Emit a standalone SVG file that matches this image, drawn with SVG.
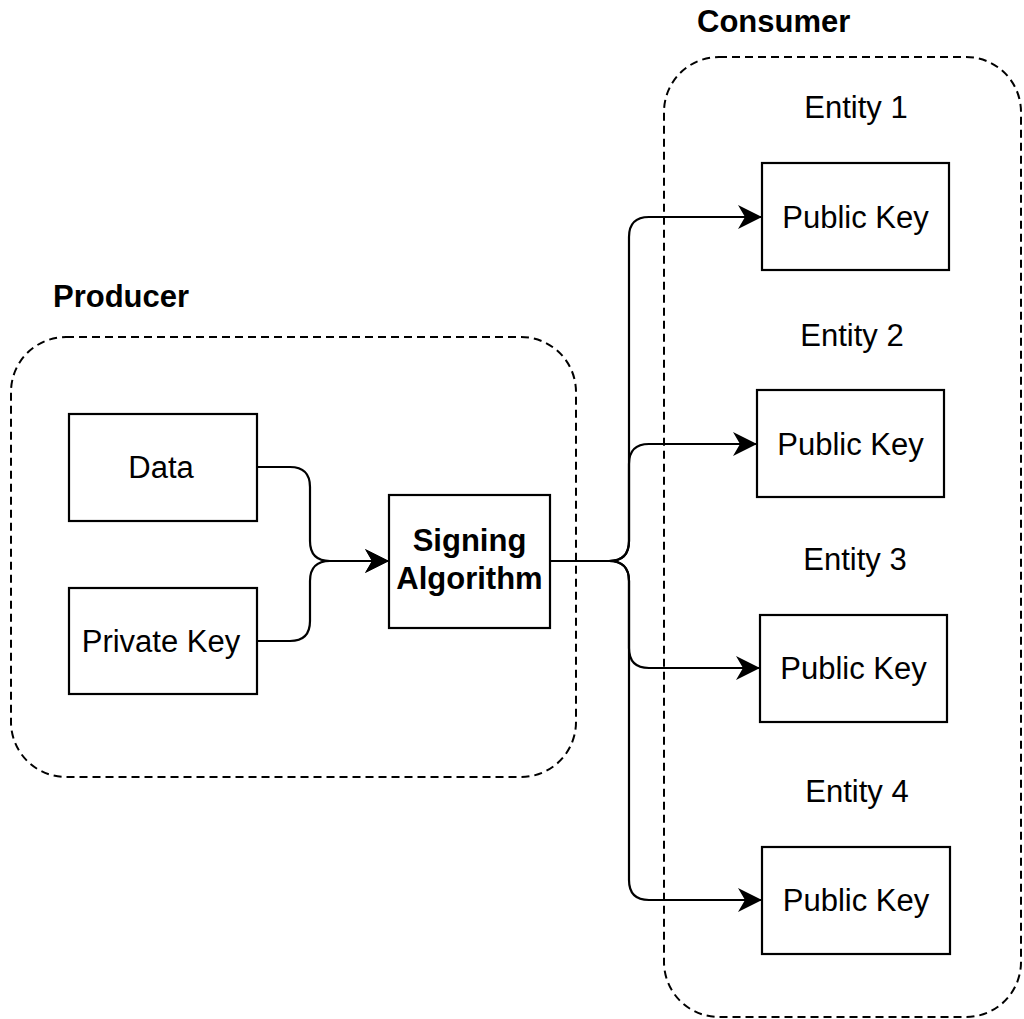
<svg xmlns="http://www.w3.org/2000/svg" width="1024" height="1019" viewBox="0 0 1024 1019">
<style>
.container{fill:none;stroke:#000;stroke-width:2;stroke-dasharray:8 5}
.box{fill:#fff;stroke:#000;stroke-width:2.2}
.edge{fill:none;stroke:#000;stroke-width:2.2}
.t{font-family:"Liberation Sans",Arial,Helvetica,sans-serif;font-size:31px;fill:#000;text-anchor:middle}
.b{font-weight:bold}
</style>
<defs>
<marker id="arr" markerUnits="userSpaceOnUse" markerWidth="26" markerHeight="26" refX="24" refY="12" orient="auto">
<path d="M0,0 L24,12 L0,24 L7,12 Z" fill="#000"/>
</marker>
</defs>
<rect width="1024" height="1019" fill="#fff"/>
<g id="producer">
<rect class="container" x="11" y="337" width="565" height="440" rx="55" ry="55"/>
<text class="t b" x="53" y="307" style="text-anchor:start">Producer</text>
</g>
<g id="consumer">
<rect class="container" x="664" y="57" width="357" height="960" rx="55" ry="55"/>
<text class="t b" x="697" y="32" style="text-anchor:start">Consumer</text>
</g>
<g id="connectors">
<path class="edge" d="M257,467 L290,467 Q310,467 310,487 L310,541 Q310,561 330,561 L389,561" marker-end="url(#arr)"/>
<path class="edge" d="M257,641 L290,641 Q310,641 310,621 L310,581 Q310,561 330,561 L389,561" marker-end="url(#arr)"/>
<path class="edge" d="M550,561 L609,561 Q629,561 629,541 L629,237 Q629,217 649,217 L762,217" marker-end="url(#arr)"/>
<path class="edge" d="M550,561 L609,561 Q629,561 629,541 L629,464 Q629,444 649,444 L757,444" marker-end="url(#arr)"/>
<path class="edge" d="M550,561 L609,561 Q629,561 629,581 L629,648 Q629,668 649,668 L760,668" marker-end="url(#arr)"/>
<path class="edge" d="M550,561 L609,561 Q629,561 629,581 L629,880 Q629,900 649,900 L762,900" marker-end="url(#arr)"/>
</g>
<g id="data">
<rect class="box" x="69" y="414" width="188" height="107"/>
<text class="t" x="161" y="478">Data</text>
</g>
<g id="private-key">
<rect class="box" x="69" y="588" width="188" height="106"/>
<text class="t" x="161" y="652">Private Key</text>
</g>
<g id="signing">
<rect class="box" x="389" y="495" width="161" height="133"/>
<text class="t b" x="469.5" y="551">Signing</text>
<text class="t b" x="469.5" y="589">Algorithm</text>
</g>
<g id="entity1">
<text class="t" x="856" y="118">Entity 1</text>
<rect class="box" x="762" y="163" width="187" height="107"/>
<text class="t" x="855.5" y="228">Public Key</text>
</g>
<g id="entity2">
<text class="t" x="852" y="346">Entity 2</text>
<rect class="box" x="757" y="390" width="187" height="107"/>
<text class="t" x="850.5" y="455">Public Key</text>
</g>
<g id="entity3">
<text class="t" x="855" y="570">Entity 3</text>
<rect class="box" x="760" y="615" width="187" height="107"/>
<text class="t" x="853.5" y="679">Public Key</text>
</g>
<g id="entity4">
<text class="t" x="857" y="802">Entity 4</text>
<rect class="box" x="762" y="847" width="188" height="107"/>
<text class="t" x="856" y="911">Public Key</text>
</g>
</svg>
